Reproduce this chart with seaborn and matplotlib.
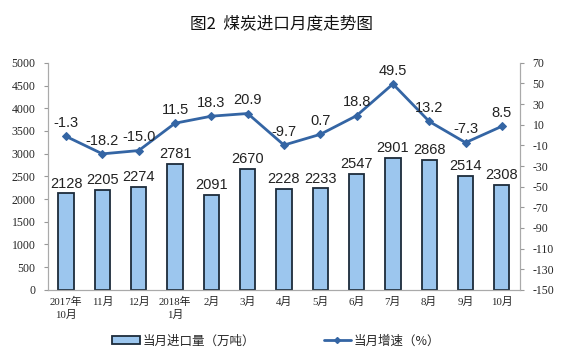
import pandas as pd
import matplotlib.pyplot as plt
import seaborn as sns
from matplotlib.patches import Patch
from matplotlib.lines import Line2D

sns.set_style("white")
plt.rcParams["axes.unicode_minus"] = False

months = ["2017年\n10月", "11月", "12月", "2018年\n1月", "2月", "3月", "4月",
          "5月", "6月", "7月", "8月", "9月", "10月"]
imports = [2128, 2205, 2274, 2781, 2091, 2670, 2228, 2233, 2547, 2901, 2868, 2514, 2308]
growth = [-1.3, -18.2, -15.0, 11.5, 18.3, 20.9, -9.7, 0.7, 18.8, 49.5, 13.2, -7.3, 8.5]

df = pd.DataFrame({"month": months, "imports": imports, "growth": growth})
df["pos"] = range(len(df))

bar_color = "#9CC6EE"
edge_color = "#1C2B3A"
line_color = "#3465A4"
cjk = ["Liberation Serif", "Noto Sans CJK SC"]
sans = ["Liberation Sans", "Noto Sans CJK SC"]

fig = plt.figure(figsize=(5.64, 3.57), dpi=100, facecolor="white")
ax = fig.add_axes([0.085, 0.188, 0.837, 0.636])

sns.barplot(data=df, x="pos", y="imports", color=bar_color, width=0.42,
            edgecolor=edge_color, linewidth=1.3, saturation=1, ax=ax)
ax.set_ylim(0, 5000)
ax.set_yticks(range(0, 5001, 500))
ax.set_xlim(-0.5, len(df) - 0.5)

for i, v in enumerate(imports):
    ax.text(i, v + 60, str(v), ha="center", va="bottom", fontsize=10.5,
            family=sans, color="#222222")

ax2 = ax.twinx()
sns.lineplot(data=df, x="pos", y="growth", color=line_color, linewidth=2,
             marker="D", markersize=4.5, markeredgecolor=line_color, ax=ax2)
ax2.set_ylim(-150, 70)
ax2.set_yticks(range(-150, 71, 20))
ax2.set_ylabel("")
for i, v in enumerate(growth):
    ax2.text(i, v + 6, f"{v:.1f}", ha="center", va="bottom", fontsize=10.5,
             family=sans, color="#222222")

ax.set_xlabel("")
ax.set_ylabel("")
ax.set_xticks(range(len(df)))
ax.set_xticklabels(months, family=cjk, fontsize=7.8, linespacing=1.4)
ax.set_xticks([i + 0.5 for i in range(-1, len(df))], minor=True)
ax.tick_params(axis="x", which="major", length=0, pad=5)
ax.tick_params(axis="x", which="minor", length=3, color="#999999", direction="out")
ax.tick_params(axis="y", length=3, color="#999999", direction="out", pad=6, labelsize=8.5)
ax2.tick_params(axis="y", length=3, color="#999999", direction="out", pad=6, labelsize=8.5)
for lab in ax.get_yticklabels() + ax2.get_yticklabels():
    lab.set_family("Liberation Serif")

for a in (ax, ax2):
    a.spines["top"].set_visible(False)
    for s in ("left", "right", "bottom"):
        a.spines[s].set_color("#AAAAAA")
        a.spines[s].set_linewidth(0.8)

fig.text(0.5, 0.935, "图2  煤炭进口月度走势图", ha="center", va="center",
         fontsize=12, fontweight="medium", family=["Noto Sans CJK SC"], color="#111111")

handles = [Patch(facecolor=bar_color, edgecolor=edge_color, linewidth=1.3),
           Line2D([0], [0], color=line_color, linewidth=2, marker="D", markersize=3)]
fig.legend(handles, ["当月进口量（万吨）", "当月增速（%）"], loc="center",
           bbox_to_anchor=(0.49, 0.045), ncol=2, frameon=False, columnspacing=5.5,
           handlelength=2.2, handleheight=0.6, handletextpad=0.2,
           prop={"family": "Noto Sans CJK SC", "size": 9})

fig.savefig("out.png", dpi=100, facecolor="white")
